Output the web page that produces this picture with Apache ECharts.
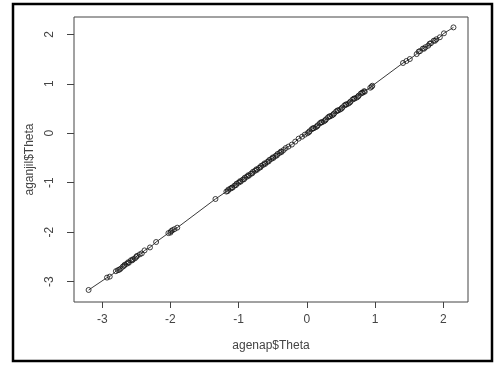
<!DOCTYPE html>
<html>
<head>
<meta charset="utf-8">
<script src="https://cdn.jsdelivr.net/npm/echarts@6/dist/echarts.min.js"></script>
<style>
  html, body { margin: 0; padding: 0; background: #fff; }
  #chart { width: 495px; height: 365px; }
</style>
</head>
<body>
<div id="chart"></div>
<script>
// theta estimates, agenap (x) vs aganjil (y)
const agenapTheta = [
  -3.20, -2.93, -2.89, -2.80, -2.77, -2.73, -2.70, -2.67, -2.64, -2.61,
  -2.58, -2.55, -2.52, -2.49, -2.45, -2.42, -2.38, -2.30, -2.21, -2.03,
  -2.00, -1.97, -1.94, -1.90, -1.34, -1.18, -1.15, -1.12, -1.09, -1.06,
  -1.03, -1.00, -0.97, -0.94, -0.91, -0.88, -0.85, -0.82, -0.79, -0.76,
  -0.73, -0.70, -0.67, -0.64, -0.61, -0.58, -0.55, -0.52, -0.49, -0.46,
  -0.43, -0.40, -0.37, -0.34, -0.31, -0.27, -0.22, -0.17, -0.12, -0.07,
  -0.03, 0.01, 0.04, 0.07, 0.10, 0.13, 0.16, 0.19, 0.22, 0.25,
  0.28, 0.31, 0.34, 0.37, 0.40, 0.43, 0.46, 0.49, 0.52, 0.55,
  0.58, 0.61, 0.64, 0.67, 0.70, 0.73, 0.76, 0.79, 0.82, 0.85,
  0.93, 0.96, 1.41, 1.46, 1.51, 1.61, 1.66, 1.70, 1.74, 1.78,
  1.82, 1.86, 1.90, 1.95, 2.01, 2.15,
  -2.75, -2.68, -2.62, -2.56, -2.50, -1.99, -1.16, -1.10, -1.04, -0.98,
  -0.92, -0.86, -0.80, -0.74, -0.68, -0.62, -0.56, -0.50, -0.44, -0.38,
  0.03, 0.09, 0.15, 0.21, 0.27, 0.33, 0.39, 0.45, 0.51, 0.57,
  0.63, 0.69, 0.75, 0.81, 0.84, 0.95, 1.64, 1.72, 1.80, 1.88
]
const aganjilTheta = [
  -3.17, -2.92, -2.90, -2.79, -2.77, -2.74, -2.70, -2.66, -2.64, -2.62,
  -2.57, -2.55, -2.53, -2.48, -2.45, -2.43, -2.37, -2.31, -2.20, -2.02,
  -2.01, -1.96, -1.94, -1.91, -1.33, -1.18, -1.14, -1.12, -1.10, -1.06,
  -1.02, -1.00, -0.98, -0.94, -0.90, -0.88, -0.86, -0.82, -0.78, -0.76,
  -0.74, -0.70, -0.66, -0.64, -0.62, -0.58, -0.54, -0.52, -0.50, -0.46,
  -0.42, -0.40, -0.38, -0.34, -0.30, -0.27, -0.23, -0.17, -0.11, -0.07,
  -0.03, 0.00, 0.04, 0.08, 0.10, 0.12, 0.16, 0.20, 0.22, 0.24,
  0.28, 0.32, 0.34, 0.36, 0.40, 0.44, 0.46, 0.48, 0.52, 0.56,
  0.58, 0.60, 0.64, 0.68, 0.70, 0.72, 0.76, 0.80, 0.82, 0.84,
  0.92, 0.96, 1.42, 1.46, 1.50, 1.60, 1.66, 1.71, 1.74, 1.77,
  1.82, 1.87, 1.90, 1.94, 2.02, 2.14,
  -2.76, -2.68, -2.61, -2.57, -2.50, -1.98, -1.17, -1.10, -1.05, -0.97,
  -0.93, -0.85, -0.81, -0.73, -0.69, -0.61, -0.57, -0.49, -0.45, -0.37,
  0.02, 0.10, 0.14, 0.22, 0.26, 0.34, 0.38, 0.46, 0.50, 0.58,
  0.62, 0.70, 0.74, 0.82, 0.85, 0.94, 1.65, 1.71, 1.81, 1.87
]
const xTicks = [-3, -2, -1, 0, 1, 2]
const yTicks = [-3, -2, -1, 0, 1, 2]

const points = agenapTheta.map((v, i) => [v, aganjilTheta[i]])
const linePoints = points.slice().sort((a, b) => a[0] - b[0])

const textColor = '#444'
const lineColor = '#444'
const font = 'Liberation Sans, Arial, sans-serif'

const chart = echarts.init(document.getElementById('chart'), null, { renderer: 'canvas' })
chart.setOption({
  animation: false,
  backgroundColor: '#fff',
  grid: {
    left: 74,
    top: 17,
    right: 27,
    bottom: 63,
    show: true,
    borderColor: lineColor,
    borderWidth: 1
  },
  xAxis: {
    type: 'value',
    min: -3.414,
    max: 2.363,
    name: 'agenap$Theta',
    nameLocation: 'middle',
    nameGap: 38,
    nameTextStyle: { color: textColor, fontSize: 12, fontFamily: font },
    splitLine: { show: false },
    axisLine: { show: false, onZero: false },
    axisTick: {
      show: true,
      length: 6,
      customValues: xTicks,
      lineStyle: { color: lineColor }
    },
    axisLabel: {
      customValues: xTicks,
      margin: 12,
      color: textColor,
      fontSize: 12,
      fontFamily: font
    }
  },
  yAxis: {
    type: 'value',
    min: -3.413,
    max: 2.35,
    name: 'aganjil$Theta',
    nameLocation: 'middle',
    nameGap: 35,
    nameTextStyle: { color: textColor, fontSize: 12, fontFamily: font },
    splitLine: { show: false },
    axisLine: { show: false, onZero: false },
    axisTick: {
      show: true,
      length: 7,
      customValues: yTicks,
      lineStyle: { color: lineColor }
    },
    axisLabel: {
      customValues: yTicks,
      rotate: 90,
      margin: 18,
      color: textColor,
      fontSize: 12,
      fontFamily: font
    }
  },
  graphic: [{
    type: 'rect',
    shape: { x: 13, y: 4, width: 479, height: 357 },
    style: { fill: 'none', stroke: '#000', lineWidth: 2.5 },
    silent: true
  }],
  series: [
    {
      type: 'line',
      data: linePoints,
      showSymbol: false,
      symbol: 'none',
      lineStyle: { color: '#222', width: 0.9 },
      silent: true
    },
    {
      type: 'scatter',
      data: points,
      symbol: 'circle',
      symbolSize: 5,
      itemStyle: { color: 'rgba(0,0,0,0)', borderColor: '#111', borderWidth: 1 }
    }
  ]
})
</script>
</body>
</html>
